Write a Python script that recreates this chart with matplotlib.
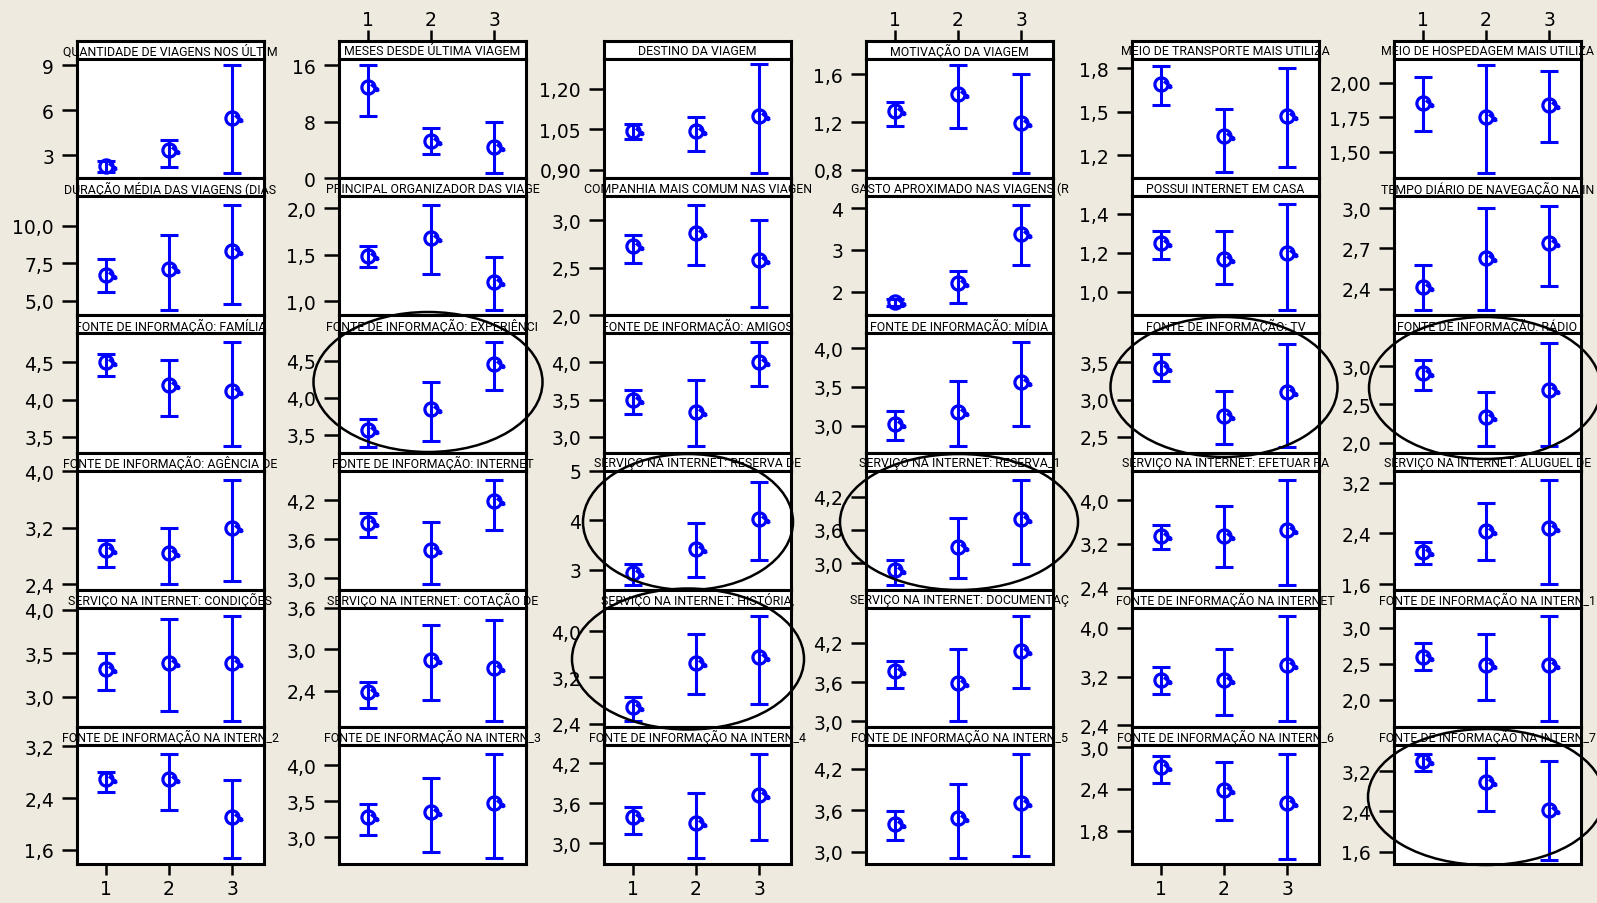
import matplotlib
matplotlib.use('Agg')
import matplotlib.pyplot as plt
from matplotlib.patches import Ellipse
from matplotlib.path import Path

BG = '#eeeae0'
BLUE = '#0000ff'

groups = [1, 2, 3]

titles = [
    'QUANTIDADE DE VIAGENS NOS ÚLTIM', 'MESES DESDE ÚLTIMA VIAGEM', 'DESTINO DA VIAGEM',
    'MOTIVAÇÃO DA VIAGEM', 'MEIO DE TRANSPORTE MAIS UTILIZA', 'MEIO DE HOSPEDAGEM MAIS UTILIZA',
    'DURAÇÃO MÉDIA DAS VIAGENS (DIAS', 'PRINCIPAL ORGANIZADOR DAS VIAGE', 'COMPANHIA MAIS COMUM NAS VIAGEN',
    'GASTO APROXIMADO NAS VIAGENS (R', 'POSSUI INTERNET EM CASA', 'TEMPO DIÁRIO DE NAVEGAÇÃO NA IN',
    'FONTE DE INFORMAÇÃO: FAMÍLIA', 'FONTE DE INFORMAÇÃO: EXPERIÊNCI', 'FONTE DE INFORMAÇÃO: AMIGOS',
    'FONTE DE INFORMAÇÃO: MÍDIA', 'FONTE DE INFORMAÇÃO: TV', 'FONTE DE INFORMAÇÃO: RÁDIO',
    'FONTE DE INFORMAÇÃO: AGÊNCIA DE', 'FONTE DE INFORMAÇÃO: INTERNET', 'SERVIÇO NA INTERNET: RESERVA DE',
    'SERVIÇO NA INTERNET: RESERVA_1', 'SERVIÇO NA INTERNET: EFETUAR PA', 'SERVIÇO NA INTERNET: ALUGUEL DE',
    'SERVIÇO NA INTERNET: CONDIÇÕES', 'SERVIÇO NA INTERNET: COTAÇÃO DE', 'SERVIÇO NA INTERNET: HISTÓRIA,',
    'SERVIÇO NA INTERNET: DOCUMENTAÇ', 'FONTE DE INFORMAÇÃO NA INTERNET', 'FONTE DE INFORMAÇÃO NA INTERN_1',
    'FONTE DE INFORMAÇÃO NA INTERN_2', 'FONTE DE INFORMAÇÃO NA INTERN_3', 'FONTE DE INFORMAÇÃO NA INTERN_4',
    'FONTE DE INFORMAÇÃO NA INTERN_5', 'FONTE DE INFORMAÇÃO NA INTERN_6', 'FONTE DE INFORMAÇÃO NA INTERN_7',
]

ytick_labels = [
    ['3', '6', '9'], ['0', '8', '16'], ['0,90', '1,05', '1,20'], ['0,8', '1,2', '1,6'], ['1,2', '1,5', '1,8'], ['1,50', '1,75', '2,00'],
    ['5,0', '7,5', '10,0'], ['1,0', '1,5', '2,0'], ['2,0', '2,5', '3,0'], ['2', '3', '4'], ['1,0', '1,2', '1,4'], ['2,4', '2,7', '3,0'],
    ['3,5', '4,0', '4,5'], ['3,5', '4,0', '4,5'], ['3,0', '3,5', '4,0'], ['3,0', '3,5', '4,0'], ['2,5', '3,0', '3,5'], ['2,0', '2,5', '3,0'],
    ['2,4', '3,2', '4,0'], ['3,0', '3,6', '4,2'], ['3', '4', '5'], ['3,0', '3,6', '4,2'], ['2,4', '3,2', '4,0'], ['1,6', '2,4', '3,2'],
    ['3,0', '3,5', '4,0'], ['2,4', '3,0', '3,6'], ['2,4', '3,2', '4,0'], ['3,0', '3,6', '4,2'], ['2,4', '3,2', '4,0'], ['2,0', '2,5', '3,0'],
    ['1,6', '2,4', '3,2'], ['3,0', '3,5', '4,0'], ['3,0', '3,6', '4,2'], ['3,0', '3,6', '4,2'], ['1,8', '2,4', '3,0'], ['1,6', '2,4', '3,2'],
]

ylims = [
    (1.49, 9.40), (0.0, 16.85), (0.869, 1.31), (0.73, 1.73), (1.04, 1.865), (1.31, 2.17),
    (4.04, 11.96), (0.845, 2.13), (2.0, 3.25), (1.43, 4.29), (0.88, 1.49), (2.2, 3.09),
    (3.29, 4.89), (3.26, 4.87), (2.79, 4.39), (2.65, 4.19), (2.29, 3.89), (1.87, 3.43),
    (2.32, 4.01), (2.82, 4.66), (2.60, 5.0), (2.52, 4.67), (2.36, 4.54), (1.51, 3.39),
    (2.65, 4.02), (1.88, 3.59), (2.34, 4.41), (2.91, 4.74), (2.37, 4.33), (1.62, 3.28),
    (1.38, 3.22), (2.63, 4.28), (2.69, 4.47), (2.82, 4.54), (1.32, 3.03), (1.35, 3.72),
]

means = [
    [2.33, 3.33, 5.49], [12.84, 5.26, 4.34], [1.044, 1.044, 1.10], [1.29, 1.44, 1.19], [1.69, 1.33, 1.47], [1.856, 1.75, 1.84],
    [6.71, 7.11, 8.33], [1.49, 1.68, 1.20], [2.73, 2.86, 2.58], [1.74, 2.20, 3.39], [1.25, 1.17, 1.20], [2.415, 2.63, 2.74],
    [4.51, 4.20, 4.12], [3.56, 3.85, 4.46], [3.49, 3.33, 4.01], [3.02, 3.17, 3.56], [3.43, 2.78, 3.10], [2.91, 2.33, 2.69],
    [2.89, 2.84, 3.20], [3.85, 3.44, 4.19], [2.93, 3.43, 4.03], [2.87, 3.30, 3.80], [3.35, 3.34, 3.46], [2.10, 2.43, 2.48],
    [3.32, 3.38, 3.38], [2.39, 2.85, 2.73], [2.68, 3.45, 3.55], [3.77, 3.58, 4.08], [3.14, 3.14, 3.39], [2.60, 2.48, 2.48],
    [2.69, 2.69, 2.11], [3.28, 3.35, 3.48], [3.39, 3.30, 3.73], [3.40, 3.49, 3.71], [2.72, 2.38, 2.20], [3.41, 2.98, 2.42],
]

lows = [
    [1.87, 2.22, 1.82], [8.83, 3.38, 0.80], [1.014, 0.97, 0.888], [1.17, 1.15, 0.77], [1.55, 1.08, 1.12], [1.65, 1.35, 1.57],
    [5.60, 4.40, 4.82], [1.37, 1.29, 0.90], [2.55, 2.53, 2.09], [1.65, 1.73, 2.64], [1.17, 1.04, 0.91], [2.24, 2.24, 2.42],
    [4.32, 3.78, 3.38], [3.34, 3.42, 4.11], [3.31, 2.88, 3.68], [2.81, 2.73, 3.00], [3.25, 2.41, 2.36], [2.69, 1.96, 1.96],
    [2.65, 2.40, 2.44], [3.64, 2.91, 3.74], [2.70, 2.86, 3.19], [2.60, 2.74, 2.99], [3.10, 2.77, 2.45], [1.92, 1.98, 1.60],
    [3.07, 2.83, 2.72], [2.15, 2.27, 1.97], [2.45, 2.91, 2.74], [3.51, 3.00, 3.51], [2.91, 2.56, 2.47], [2.41, 2.00, 1.71],
    [2.49, 2.22, 1.47], [3.04, 2.80, 2.71], [3.14, 2.78, 3.05], [3.17, 2.91, 2.94], [2.48, 1.96, 1.40], [3.20, 2.40, 1.44],
]

highs = [
    [2.60, 4.04, 9.00], [16.0, 7.15, 7.95], [1.07, 1.094, 1.29], [1.37, 1.68, 1.60], [1.82, 1.52, 1.80], [2.04, 2.125, 2.08],
    [7.82, 9.38, 11.38], [1.59, 2.04, 1.47], [2.84, 3.16, 3.00], [1.82, 2.50, 4.08], [1.31, 1.31, 1.45], [2.575, 3.0, 3.02],
    [4.61, 4.53, 4.77], [3.71, 4.22, 4.75], [3.63, 3.76, 4.27], [3.19, 3.57, 4.08], [3.61, 3.12, 3.75], [3.08, 2.66, 3.31],
    [3.03, 3.20, 3.87], [4.01, 3.87, 4.52], [3.12, 3.95, 4.78], [3.05, 3.81, 4.50], [3.55, 3.90, 4.36], [2.26, 2.88, 3.24],
    [3.50, 3.89, 3.93], [2.53, 3.35, 3.42], [2.86, 3.95, 4.26], [3.92, 4.10, 4.61], [3.36, 3.65, 4.19], [2.79, 2.92, 3.16],
    [2.80, 3.08, 2.68], [3.46, 3.82, 4.15], [3.54, 3.76, 4.34], [3.59, 3.98, 4.41], [2.87, 2.78, 2.90], [3.55, 3.47, 3.40],
]

W, H = 1597, 904
fig = plt.figure(figsize=(W / 100, H / 100), dpi=100, facecolor=BG)

col_left = [77, 339, 604, 866, 1132, 1394]
col_w = 187
row_top = [42 + 137.2 * i for i in range(6)]
head_h = 18
plot_h = 119.2


def box(x, y, w, h):
    return fig.add_axes([x / W, 1 - (y + h) / H, w / W, h / H])


# mean symbol: open circle with a small hook on the right
hook = Path([(0.35, 0.45), (1.5, -0.55), (0.95, -0.55), (1.45, -0.05)],
            [Path.MOVETO, Path.LINETO, Path.MOVETO, Path.LINETO])

ytick_kw = dict(length=10.5, width=1.8, labelsize=13.5, colors='black')
xtick_kw = dict(length=8, width=1.8, labelsize=13.5, colors='black')

for i in range(36):
    r, c = divmod(i, 6)
    x0 = col_left[c]
    y0 = row_top[r]

    hd = box(x0, y0, col_w, head_h)
    hd.set_xlim(0.55, 3.5)
    hd.set_yticks([])
    hd.set_facecolor('white')
    for s in hd.spines.values():
        s.set_linewidth(2.2)
    hd.text(0.5, 0.45, titles[i], transform=hd.transAxes, ha='center', va='center',
            fontsize=8.9, family='Roboto', clip_on=False)
    if r == 0 and c % 2 == 1:
        hd.xaxis.tick_top()
        hd.set_xticks(groups)
        hd.tick_params(axis='x', pad=0.5, **xtick_kw)
    else:
        hd.set_xticks([])

    ax = box(x0, y0 + head_h, col_w, plot_h)
    ax.set_facecolor('white')
    for s in ax.spines.values():
        s.set_linewidth(2.2)
    ax.set_xlim(0.55, 3.5)
    ax.set_ylim(*ylims[i])
    vals = [float(t.replace(',', '.')) for t in ytick_labels[i]]
    ax.set_yticks(vals)
    ax.set_yticklabels(ytick_labels[i])
    ax.tick_params(axis='y', pad=6, **ytick_kw)
    if r == 5 and c % 2 == 0:
        ax.set_xticks(groups)
        ax.tick_params(axis='x', pad=3, **xtick_kw)
    else:
        ax.set_xticks([])

    m = means[i]
    err = [[a - b for a, b in zip(m, lows[i])], [b - a for a, b in zip(m, highs[i])]]
    ax.errorbar(groups, m, yerr=err, fmt='none', ecolor=BLUE, elinewidth=2.2,
                capsize=6.5, capthick=2.2, clip_on=False, zorder=3)
    ax.plot(groups, m, ls='none', marker='o', ms=9.5, mfc='none', mec=BLUE, mew=2.3, zorder=4)
    ax.plot(groups, m, ls='none', marker=hook, ms=15, mfc='none', mec=BLUE, mew=2.1, zorder=4)

# hand-drawn ellipses over the panels, in figure pixels (centre x, centre y, width, height)
rings = [
    (428, 383, 229, 140), (1224, 388, 227, 140), (1485, 389, 232, 142),
    (688, 523, 210, 136), (688, 660, 232, 141), (959, 523, 238, 136),
    (1486, 798, 236, 136),
]
ov = fig.add_axes([0, 0, 1, 1])
ov.set_xlim(0, W)
ov.set_ylim(H, 0)
ov.axis('off')
ov.patch.set_alpha(0)
for cx, cy, w, h in rings:
    ov.add_patch(Ellipse((cx, cy), w, h, fill=False, ec='black', lw=1.8, clip_on=False))

fig.savefig('out.png', dpi=100, facecolor=BG)
